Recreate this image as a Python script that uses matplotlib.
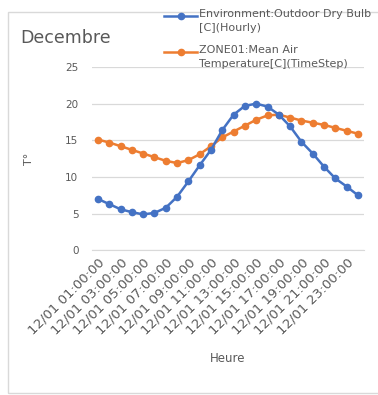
import matplotlib
matplotlib.use("Agg")
import matplotlib.pyplot as plt
from matplotlib.lines import Line2D
from matplotlib.patches import Rectangle

# Hourly values for 1 December
hours = [f"12/01 {h:02d}:00:00" for h in range(1, 25)]
outdoor_dry_bulb = [7.0, 6.3, 5.6, 5.2, 4.9, 5.1, 5.8, 7.3, 9.4, 11.6, 13.7, 16.4,
                    18.5, 19.7, 20.0, 19.6, 18.5, 16.9, 14.8, 13.2, 11.4, 9.8, 8.7, 7.5]
zone_mean_air = [15.1, 14.7, 14.2, 13.7, 13.2, 12.7, 12.2, 11.9, 12.3, 13.1, 14.2, 15.4,
                 16.2, 17.0, 17.8, 18.4, 18.5, 18.1, 17.7, 17.4, 17.1, 16.7, 16.3, 15.9]
y_ticks = [0, 5, 10, 15, 20, 25]
legend_labels = ["Environment:Outdoor Dry Bulb\n[C](Hourly)",
                 "ZONE01:Mean Air\nTemperature[C](TimeStep)"]

BLUE = "#4472C4"
ORANGE = "#ED7D31"
TEXT = "#595959"
GRID = "#D9D9D9"

W, H = 378, 395
fig = plt.figure(figsize=(W / 100, H / 100), dpi=100)
fig.patch.set_facecolor("white")

# chart frame
fig.add_artist(Rectangle((8 / W, 1 - 393 / H), (W + 10) / W, (393 - 12) / H,
                         transform=fig.transFigure, fill=False,
                         edgecolor=GRID, linewidth=1.0))

ax = fig.add_axes([92.3 / W, 1 - 250.3 / H, (363.6 - 92.3) / W, (250.3 - 67) / H])
x = list(range(len(hours)))
ax.plot(x, outdoor_dry_bulb, color=BLUE, lw=1.8, marker="o", ms=4.5, zorder=3)
ax.plot(x, zone_mean_air, color=ORANGE, lw=1.8, marker="o", ms=4.5, zorder=2)

ax.set_xlim(-0.5, len(hours) - 0.5)
ax.set_ylim(0, 25)
ax.set_yticks(y_ticks)
ax.yaxis.grid(True, color=GRID, lw=0.9)
ax.set_axisbelow(True)
for side in ("top", "right", "left"):
    ax.spines[side].set_visible(False)
ax.spines["bottom"].set_color(GRID)
ax.tick_params(axis="y", length=0, pad=10, labelsize=7.5, labelcolor=TEXT)
ax.tick_params(axis="x", length=0, pad=4, labelsize=9.5, labelcolor=TEXT)
ax.set_xticks(x[::2])
ax.set_xticklabels(hours[::2], rotation=45, ha="right", rotation_mode="anchor")

ax.set_ylabel("T°", color=TEXT, fontsize=8)
ax.yaxis.set_label_coords(-0.215, 0.5)
ax.set_xlabel("Heure", color=TEXT, fontsize=8.5)
ax.xaxis.set_label_coords(0.5, -0.555)

fig.text(20 / W, 1 - 38 / H, "Decembre", fontsize=12.5, color=TEXT,
         ha="left", va="center")

# legend entries
for color, label, yline in zip([BLUE, ORANGE], legend_labels, [16, 52]):
    fig.add_artist(Line2D([164 / W, 197 / W], [1 - yline / H] * 2,
                          transform=fig.transFigure, color=color, lw=1.8,
                          marker=None))
    fig.add_artist(Line2D([180.5 / W], [1 - yline / H], transform=fig.transFigure,
                          color=color, marker="o", ms=4.5, lw=0))
    fig.text(199 / W, 1 - (yline - 7) / H, label, fontsize=8, color=TEXT,
             ha="left", va="top", linespacing=1.45)

fig.savefig("out.png", dpi=100, facecolor="white")
